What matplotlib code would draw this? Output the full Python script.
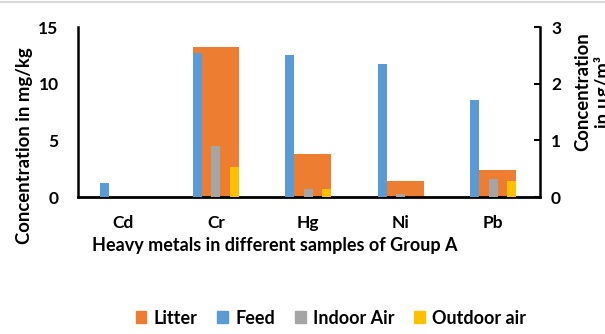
import matplotlib
matplotlib.use("Agg")
import matplotlib.pyplot as plt
import numpy as np
from matplotlib.patches import Patch
from matplotlib.lines import Line2D

categories = ["Cd", "Cr", "Hg", "Ni", "Pb"]
litter = [0.0, 13.2, 3.77, 1.38, 2.38]        # mg/kg (primary)
feed = [1.26, 12.7, 12.5, 11.7, 8.56]         # mg/kg (primary)
indoor_air = [0.0, 0.90, 0.135, 0.06, 0.31]   # ug/m3 (secondary)
outdoor_air = [0.0, 0.535, 0.135, 0.0, 0.28]  # ug/m3 (secondary)

C_LITTER = "#ED7D31"
C_FEED = "#5B9BD5"
C_IN = "#A5A5A5"
C_OUT = "#FFC000"

plt.rcParams['font.family'] = ['Lato', 'DejaVu Sans']
plt.rcParams['font.weight'] = 'bold'

fig = plt.figure(figsize=(6.05, 3.34), dpi=100)
ax = fig.add_axes([78/605, 1-197/334, 462/605, 170/334])
ax2 = ax.twinx()

x = np.arange(len(categories))
# litter bar geometry (left offset, width) per category, as in the reference
lit_left = np.array([-0.15, -0.25, -0.15, -0.15, -0.15])
lit_w = np.array([0.40, 0.50, 0.40, 0.40, 0.40])
ax.bar(x + lit_left, litter, width=lit_w, align='edge', color=C_LITTER, zorder=2)
ax.bar(x - 0.2, feed, width=0.1, color=C_FEED, zorder=3)
ax2.bar(x, indoor_air, width=0.095, color=C_IN, zorder=3)
ax2.bar(x + 0.198, outdoor_air, width=0.1, color=C_OUT, zorder=3)

ax.set_xlim(-0.49, 4.505)
ax.set_ylim(0, 15)
ax2.set_ylim(0, 3)
ax.set_yticks([0, 5, 10, 15])
ax2.set_yticks([0, 1, 2, 3])
ax.set_xticks(x)
ax.set_xticklabels(categories)

for a in (ax, ax2):
    a.spines['top'].set_visible(False)
    a.set_facecolor('none')
ax.spines['right'].set_visible(False)
ax2.spines['left'].set_visible(False)
ax2.spines['bottom'].set_visible(False)
ax.spines['left'].set_linewidth(1.8)
ax.spines['bottom'].set_linewidth(2.0)
ax2.spines['right'].set_linewidth(1.8)

ax.tick_params(axis='y', length=0, pad=14, labelsize=12.5)
ax.tick_params(axis='x', length=0, pad=13, labelsize=12.5)
ax2.tick_params(axis='y', direction='in', length=4, width=1.5, pad=8, labelsize=12.5)

fig.text(25/605, 1-146/334, "Concentration in mg/kg", rotation=90,
         ha='center', va='center', fontsize=13.3, fontweight='bold')
fig.text(593/605, 1-92/334, "Concentration\nin µg/m³", rotation=90,
         ha='center', va='center', fontsize=13.3, fontweight='bold',
         multialignment='center', linespacing=1.15)
fig.text(275/605, 1-245/334, "Heavy metals in different samples of Group A",
         ha='center', va='center', fontsize=13, fontweight='bold')

handles = [Patch(color=C_LITTER, label="Litter"), Patch(color=C_FEED, label="Feed"),
           Patch(color=C_IN, label="Indoor Air"), Patch(color=C_OUT, label="Outdoor air")]
fig.legend(handles=handles, loc='center', bbox_to_anchor=(331/605, 1-318/334), ncol=4,
           frameon=False, fontsize=13, handlelength=0.6, handleheight=0.6,
           handletextpad=0.4, columnspacing=1.1)

fig.add_artist(Line2D([0, 1], [1-1.5/334, 1-1.5/334], color='#D9D9D9', lw=1.5,
                      transform=fig.transFigure))

fig.savefig("out.png", dpi=100)
